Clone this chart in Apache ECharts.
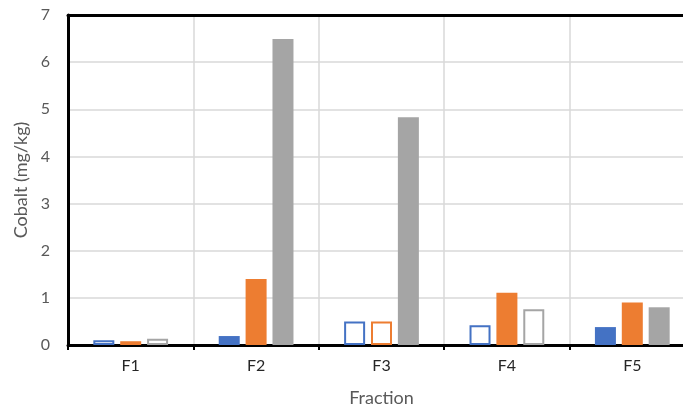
<!DOCTYPE html>
<html><head><meta charset="utf-8">
<script src="https://cdn.jsdelivr.net/npm/echarts@6/dist/echarts.min.js"></script>
<style>html,body{margin:0;padding:0;background:#fff}#c{width:683px;height:410px}</style>
</head><body><div id="c"></div>
<script>
const categories = ['F1','F2','F3','F4','F5'];
const seriesA = [0.10, 0.19, 0.50, 0.42, 0.38];
const seriesB = [0.08, 1.40, 0.50, 1.11, 0.90];
const seriesC = [0.13, 6.49, 4.83, 0.76, 0.80];
// which bars are drawn hollow (outline only)
const hollowA = [true, false, true, true, false];
const hollowB = [true, false, true, false, false];
const hollowC = [true, false, false, true, false];
const colors = ['#4472C4', '#ED7D31', '#A5A5A5'];
const yTicks = [0,1,2,3,4,5,6,7];

function mk(vals, hollow, col) {
  return vals.map((v, i) => hollow[i]
    ? { value: v, itemStyle: { color: '#ffffff', borderColor: col, borderWidth: 2 } }
    : { value: v, itemStyle: { color: col } });
}
const font = 'Lato, "Open Sans", sans-serif';
const chart = echarts.init(document.getElementById('c'));
chart.setOption({
  animation: false,
  textStyle: { fontFamily: font },
  grid: { left: 68, top: 15, width: 627, height: 330, show: false,
          containLabel: false, outerBoundsMode: 'none' },
  xAxis: [{
    type: 'category', data: categories,
    name: 'Fraction', nameLocation: 'middle', nameGap: 44,
    nameTextStyle: { color: '#595959', fontSize: 18, fontFamily: font },
    axisLine: { lineStyle: { color: '#000', width: 3 } },
    axisTick: { show: true, length: 5, lineStyle: { color: '#000', width: 2 } },
    axisLabel: { color: '#262626', fontSize: 16, margin: 13, fontFamily: font },
    splitLine: { show: true, lineStyle: { color: '#d9d9d9', width: 1.5 } }
  }, {
    type: 'category', data: categories, position: 'top',
    axisLine: { show: true, onZero: false, lineStyle: { color: '#000', width: 3 } },
    axisTick: { show: false }, axisLabel: { show: false }, splitLine: { show: false }
  }],
  yAxis: {
    type: 'value', min: yTicks[0], max: yTicks[yTicks.length-1], interval: 1,
    name: 'Cobalt (mg/kg)', nameLocation: 'middle', nameGap: 35,
    nameTextStyle: { color: '#595959', fontSize: 18, fontFamily: font },
    axisLine: { show: true, lineStyle: { color: '#000', width: 3 } },
    axisTick: { show: false },
    axisLabel: { color: '#595959', fontSize: 16, margin: 18, fontFamily: font },
    splitLine: { show: true, lineStyle: { color: '#d9d9d9', width: 1.5 } }
  },
  series: [
    { type: 'bar', data: mk(seriesA, hollowA, colors[0]), barWidth: 21, barGap: '28%', barCategoryGap: '39%' },
    { type: 'bar', data: mk(seriesB, hollowB, colors[1]), barWidth: 21, barGap: '28%' },
    { type: 'bar', data: mk(seriesC, hollowC, colors[2]), barWidth: 21, barGap: '28%' }
  ]
});
</script></body></html>
